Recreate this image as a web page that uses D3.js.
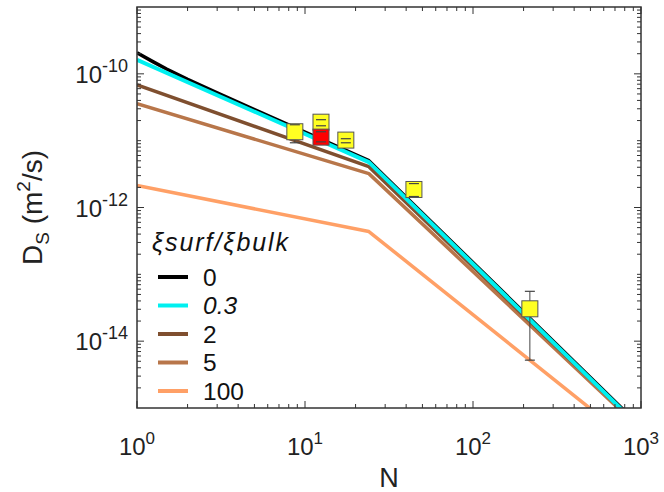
<!DOCTYPE html>
<html><head><meta charset="utf-8">
<script src="https://cdn.jsdelivr.net/npm/d3@7"></script>
<style>body{margin:0;background:#fff;} text{font-family:"Liberation Sans",Arial,sans-serif;}</style>
</head><body>
<svg id="chart" width="664" height="492"></svg>
<script>
// ---- data ----
const seriesLabels = ["0", "0.3", "2", "5", "100"];
const seriesColors = ["#000000", "#00f0f0", "#7f4f2f", "#b8764a", "#ffa066"];
const seriesItalic = [false, true, false, false, false];

const nXi0 = [1, 1.25, 1.5, 2, 3, 5, 10, 24, 800];
const dXi0 = [2.06e-10, 1.51e-10, 1.18e-10, 8.26e-11, 5.18e-11, 2.91e-11, 1.34e-11, 5.02e-12, 9.0e-16];
const nXi03 = [1, 24, 800];
const dXi03 = [1.62e-10, 4.78e-12, 8.6e-16];
const nXi2 = [1, 24, 800];
const dXi2 = [6.85e-11, 4.09e-12, 8.6e-16];
const nXi5 = [1, 24, 800];
const dXi5 = [3.57e-11, 3.21e-12, 8.05e-16];
const nXi100 = [1, 24, 800];
const dXi100 = [2.13e-12, 4.37e-13, 3.8e-16];

const expN = [8.7, 12.45, 12.45, 17.5, 44.5, 218];
const expD = [1.36e-11, 1.89e-11, 1.13e-11, 1.02e-11, 1.86e-12, 3.05e-14];
const expLo = [9.3e-12, 1.67e-11, 9.6e-12, 9.3e-12, 1.46e-12, 5.2e-15];
const expHi = [1.73e-11, 2.06e-11, 1.36e-11, 1.07e-11, 2.28e-12, 5.57e-14];
const expFill = ["#ffff22", "#ffff22", "#ff0000", "#ffff22", "#ffff22", "#ffff22"];

const xTickExp = [0, 1, 2, 3];
const yTickExp = [-14, -12, -10];

// ---- layout ----
const svg = d3.select("#chart");
const L = 137, R = 641, T = 7, B = 408;
const x = d3.scaleLog().domain([1, 1000]).range([L, R]);
const y = d3.scaleLog().domain([1e-15, 1e-9]).range([B, T]);
const axisColor = "#333333";

svg.append("defs").append("clipPath").attr("id", "clip")
  .append("rect").attr("x", L).attr("y", T).attr("width", R - L).attr("height", B - T);

// lines
const seriesN = [nXi0, nXi03, nXi2, nXi5, nXi100];
const seriesD = [dXi0, dXi03, dXi2, dXi5, dXi100];
const line = d3.line().x(d => x(d[0])).y(d => y(d[1]));
const drawOrder = [4, 3, 2, 0, 1];
const gLines = svg.append("g").attr("clip-path", "url(#clip)");
drawOrder.forEach(i => {
  const pts = seriesN[i].map((n, k) => [n, seriesD[i][k]]);
  gLines.append("path").attr("d", line(pts)).attr("fill", "none")
    .attr("stroke", seriesColors[i]).attr("stroke-width", i === 1 ? 4 : 3.5)
    .attr("stroke-linejoin", "round");
});

// error bars + markers
const gExp = svg.append("g");
const cap = 5, half = 8;
expN.forEach((n, i) => {
  gExp.append("line").attr("x1", x(n)).attr("x2", x(n)).attr("y1", y(expLo[i])).attr("y2", y(expHi[i]))
    .attr("stroke", "#444").attr("stroke-width", 1);
});
expN.forEach((n, i) => {
  gExp.append("rect").attr("x", x(n) - half).attr("y", y(expD[i]) - half)
    .attr("width", 2 * half).attr("height", 2 * half)
    .attr("fill", expFill[i]).attr("stroke", "#555").attr("stroke-width", 1);
});
expN.forEach((n, i) => {
  [expLo[i], expHi[i]].forEach(v => {
    gExp.append("line").attr("x1", x(n) - cap).attr("x2", x(n) + cap).attr("y1", y(v)).attr("y2", y(v))
      .attr("stroke", "#444").attr("stroke-width", 1.2);
  });
});

// axes box & ticks
const gAx = svg.append("g");
gAx.append("rect").attr("x", L).attr("y", T).attr("width", R - L).attr("height", B - T)
  .attr("fill", "none").attr("stroke", axisColor).attr("stroke-width", 1.5);

const xMajor = xTickExp.map(e => Math.pow(10, e));
const xMinor = [];
for (let e = 0; e < 3; e++) for (let k = 2; k <= 9; k++) xMinor.push(k * Math.pow(10, e));
const yMajor = yTickExp.map(e => Math.pow(10, e));
const yMinor = [];
for (let e = -15; e < -9; e++) for (let k = 1; k <= 9; k++) {
  const v = k * Math.pow(10, e);
  if (!yTickExp.includes(e) || k !== 1) yMinor.push(v);
}
const tick = (x1, y1, x2, y2) => gAx.append("line").attr("x1", x1).attr("y1", y1).attr("x2", x2).attr("y2", y2)
  .attr("stroke", axisColor).attr("stroke-width", 1);
xMajor.forEach(v => { tick(x(v), B, x(v), B - 7); tick(x(v), T, x(v), T + 7); });
xMinor.forEach(v => { tick(x(v), B, x(v), B - 4); tick(x(v), T, x(v), T + 4); });
yMajor.forEach(v => { tick(L, y(v), L + 7, y(v)); tick(R, y(v), R - 7, y(v)); });
yMinor.filter(v => v > 1e-15 * 1.01 && v < 1e-9 * 0.99).forEach(v => { tick(L, y(v), L + 4, y(v)); tick(R, y(v), R - 4, y(v)); });

// tick labels
const fs = 24;
xTickExp.forEach(e => {
  const t = gAx.append("text").attr("x", x(Math.pow(10, e))).attr("y", B + 47)
    .attr("text-anchor", "middle").attr("font-size", fs).attr("fill", "#222");
  t.append("tspan").text("10");
  t.append("tspan").attr("dy", -11).attr("font-size", 17).text(String(e));
});
yTickExp.forEach(e => {
  const t = gAx.append("text").attr("x", L - 9).attr("y", y(Math.pow(10, e)) + 9)
    .attr("text-anchor", "end").attr("font-size", fs).attr("fill", "#222");
  t.append("tspan").text("10");
  t.append("tspan").attr("dy", -11).attr("font-size", 18).text("-" + String(-e));
});

// axis titles
svg.append("text").attr("x", (L + R) / 2).attr("y", 487).attr("text-anchor", "middle")
  .attr("font-size", 27).attr("fill", "#222").text("N");
const yl = svg.append("text").attr("transform", `translate(42,${(T + B) / 2}) rotate(-90)`)
  .attr("text-anchor", "middle").attr("font-size", 28).attr("fill", "#222");
yl.append("tspan").text("D");
yl.append("tspan").attr("dy", 7).attr("font-size", 19).text("S");
yl.append("tspan").attr("dy", -7).text(" (m");
yl.append("tspan").attr("dy", -12).attr("font-size", 19).text("2");
yl.append("tspan").attr("dy", 12).text("/s)");

// legend
const gLeg = svg.append("g");
gLeg.append("text").attr("x", 152).attr("y", 251).attr("font-size", 25).attr("font-style", "italic")
  .attr("fill", "#111").attr("textLength", 136).attr("lengthAdjust", "spacing").text("ξsurf/ξbulk");
const legOrder = [0, 1, 2, 3, 4];
legOrder.forEach((i, k) => {
  const yy = 277 + k * 28.5;
  gLeg.append("line").attr("x1", 158).attr("x2", 188).attr("y1", yy).attr("y2", yy)
    .attr("stroke", seriesColors[i]).attr("stroke-width", 4);
  gLeg.append("text").attr("x", 203).attr("y", yy + 8.5).attr("font-size", 24.5)
    .attr("font-style", seriesItalic[i] ? "italic" : "normal").attr("fill", "#111").text(seriesLabels[i]);
});
</script>
</body></html>
